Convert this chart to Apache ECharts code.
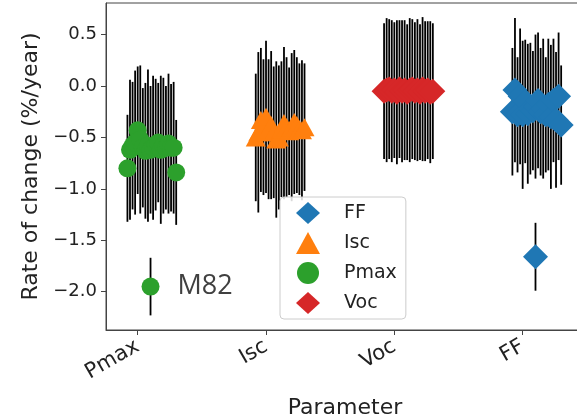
<!DOCTYPE html>
<html>
<head>
<meta charset="utf-8">
<script src="https://cdn.jsdelivr.net/npm/echarts@6/dist/echarts.min.js"></script>
<style>html,body{margin:0;padding:0;background:#fff}#c{width:577px;height:419px}</style>
</head>
<body>
<div id="c"></div>
<script>
// Categories on the x axis (tick positions 0..3)
const categories = ['Pmax', 'Isc', 'Voc', 'FF'];
const yTicks = [-2.0, -1.5, -1.0, -0.5, 0.0, 0.5];

// Horizontal jitter offsets of the individual systems (shared by every parameter)
const offsets = [-0.08,-0.06,-0.04,-0.02,0.00,0.02,0.04,0.06,0.08,0.10,0.12,0.14,0.16,0.18,0.20,0.22,0.24,0.26,0.28,0.30];

// Rate of change (%/year) and symmetric error per system
const pmaxVals = [-0.80,-0.62,-0.58,-0.55,-0.43,-0.52,-0.60,-0.63,-0.58,-0.62,-0.60,-0.57,-0.55,-0.62,-0.58,-0.60,-0.56,-0.60,-0.60,-0.84];
const pmaxErr  = [0.52,0.68,0.62,0.70,0.62,0.72,0.58,0.66,0.74,0.62,0.70,0.64,0.58,0.72,0.66,0.60,0.68,0.62,0.64,0.51];
const iscVals  = [-0.50,-0.45,-0.33,-0.40,-0.30,-0.42,-0.38,-0.45,-0.52,-0.50,-0.42,-0.36,-0.40,-0.44,-0.40,-0.35,-0.38,-0.42,-0.43,-0.40];
const iscErr   = [0.62,0.78,0.70,0.66,0.74,0.68,0.72,0.64,0.76,0.70,0.66,0.74,0.68,0.62,0.72,0.70,0.66,0.64,0.68,0.62];
const vocVals  = [-0.05,-0.04,-0.03,-0.05,-0.04,-0.06,-0.03,-0.05,-0.04,-0.06,-0.04,-0.03,-0.05,-0.04,-0.06,-0.03,-0.05,-0.04,-0.06,-0.05];
const vocErr   = [0.66,0.70,0.68,0.69,0.66,0.70,0.67,0.69,0.68,0.66,0.70,0.68,0.67,0.69,0.66,0.70,0.68,0.67,0.69,0.66];
const ffVals   = [-0.25,-0.04,-0.28,-0.10,-0.28,-0.15,-0.27,-0.22,-0.24,-0.20,-0.14,-0.25,-0.22,-0.28,-0.18,-0.30,-0.14,-0.33,-0.10,-0.38];
const ffErr    = [0.62,0.70,0.56,0.66,0.72,0.60,0.68,0.64,0.58,0.70,0.66,0.62,0.68,0.56,0.64,0.70,0.60,0.66,0.62,0.58];

// Outlier systems
const m82Pmax = { offset: 0.10, value: -1.95, err: 0.28, label: 'M82' };
const ffOutlier = { offset: 0.10, value: -1.66, err: 0.33 };

const colors = { FF: '#1f77b4', Isc: '#ff7f0e', Pmax: '#2ca02c', Voc: '#d62728' };

function pts(idx, vals) { return vals.map((v, i) => [idx + offsets[i], v]); }
function bars(idx, vals, errs) { return vals.map((v, i) => [idx + offsets[i], v - errs[i], v + errs[i]]); }

const pmaxPts = pts(0, pmaxVals);
pmaxPts.push({ value: [0 + m82Pmax.offset, m82Pmax.value], label: { show: true, formatter: m82Pmax.label, position: 'right', distance: 18, fontFamily: 'Open Sans', fontSize: 27, color: '#404040' } });
const pmaxBars = bars(0, pmaxVals, pmaxErr);
pmaxBars.push([m82Pmax.offset, m82Pmax.value - m82Pmax.err, m82Pmax.value + m82Pmax.err]);

const iscPts = pts(1, iscVals), iscBars = bars(1, iscVals, iscErr);
const vocPts = pts(2, vocVals), vocBars = bars(2, vocVals, vocErr);
const ffPts = pts(3, ffVals), ffBars = bars(3, ffVals, ffErr);
ffPts.push([3 + ffOutlier.offset, ffOutlier.value]);
ffBars.push([3 + ffOutlier.offset, ffOutlier.value - ffOutlier.err, ffOutlier.value + ffOutlier.err]);

function errSeries(data) {
  return {
    type: 'custom', data: data, z: 1, silent: true,
    encode: { x: 0, y: [1, 2] },
    renderItem: function (params, api) {
      const x = api.value(0);
      const p1 = api.coord([x, api.value(1)]);
      const p2 = api.coord([x, api.value(2)]);
      return { type: 'line', shape: { x1: p1[0], y1: p1[1], x2: p2[0], y2: p2[1] }, style: { stroke: '#000', lineWidth: 1.8 } };
    }
  };
}
function scat(name, data, symbol, size) {
  return { name: name, type: 'scatter', data: data, symbol: symbol, symbolSize: size, z: 3,
    itemStyle: { color: colors[name], opacity: 1 } };
}

const font = 'DejaVu Sans';
const chart = echarts.init(document.getElementById('c'), null, { renderer: 'canvas' });
chart.setOption({
  animation: false,
  grid: { left: 106, right: -7, top: 3, bottom: 89, show: true, borderColor: '#444', borderWidth: 1, backgroundColor: 'transparent', containLabel: false, outerBoundsMode: 'none' },
  xAxis: {
    type: 'value', min: -0.247, max: 3.478,
    name: 'Parameter', nameLocation: 'middle', nameGap: 67,
    nameTextStyle: { fontFamily: font, fontSize: 22, color: '#222' },
    axisLine: { show: true, onZero: false, lineStyle: { color: '#444' } }, splitLine: { show: false },
    axisTick: { show: true, length: 5, lineStyle: { color: '#444' }, customValues: [0, 1, 2, 3] },
    axisLabel: { customValues: [0, 1, 2, 3], rotate: 30, margin: 15, fontFamily: font, fontSize: 21, color: '#222',
      formatter: v => categories[Math.round(v)] }
  },
  yAxis: {
    type: 'value', min: -2.372, max: 0.807,
    name: 'Rate of change (%/year)', nameLocation: 'middle', nameGap: 64,
    nameTextStyle: { fontFamily: font, fontSize: 22, color: '#222' },
    axisLine: { show: true, onZero: false, lineStyle: { color: '#444' } }, splitLine: { show: false },
    axisTick: { show: true, length: 5, lineStyle: { color: '#444' }, customValues: yTicks },
    axisLabel: { customValues: yTicks, margin: 9, fontFamily: font, fontSize: 18, color: '#222',
      formatter: v => (v < 0 ? '\u2212' : '') + Math.abs(v).toFixed(1) }
  },
  legend: {
    data: ['FF', 'Isc', 'Pmax', 'Voc'], orient: 'vertical', left: 280, top: 197,
    itemWidth: 24, itemHeight: 22, itemGap: 8, padding: [5, 9, 5, 16],
    backgroundColor: 'rgba(255,255,255,0.85)', borderColor: '#ccc', borderWidth: 1, borderRadius: 4,
    textStyle: { fontFamily: font, fontSize: 19, color: '#222', padding: [0, 0, 0, 19] }
  },
  series: [
    errSeries(ffBars), errSeries(iscBars), errSeries(pmaxBars), errSeries(vocBars),
    scat('FF', ffPts, 'diamond', 25),
    scat('Isc', iscPts, 'triangle', [20, 18]),
    scat('Pmax', pmaxPts, 'circle', 18),
    scat('Voc', vocPts, 'diamond', 25)
  ]
});
</script>
</body>
</html>
